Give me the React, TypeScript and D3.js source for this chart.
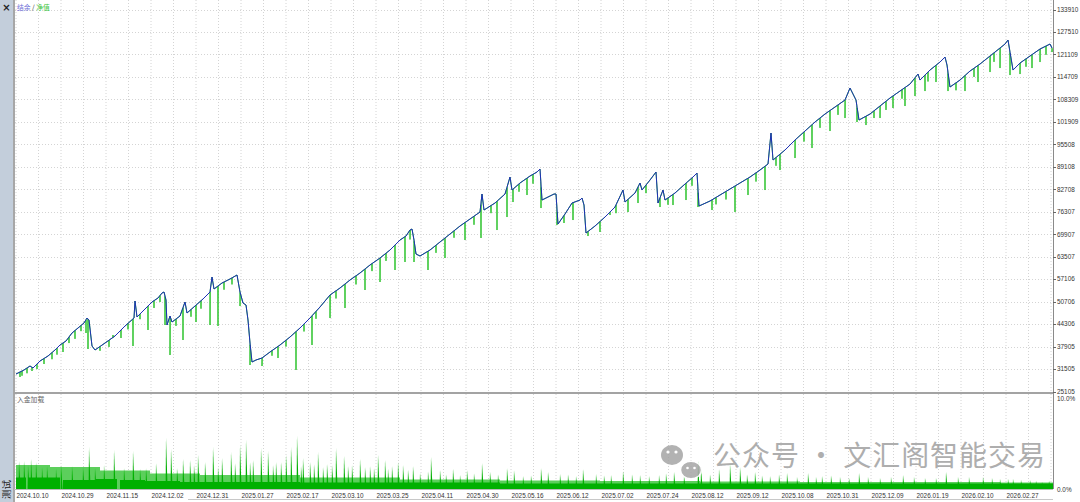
import React from 'react';
import * as d3 from 'd3';

const yTickLabels = ['25105','31505','37905','44306','50706','57106','63507','69907','76307','82708','89108','95508','101909','108309','114709','121109','127510','133910'];
const dateLabels = ['2024.10.10','2024.10.29','2024.11.15','2024.12.02','2024.12.31','2025.01.27','2025.02.17','2025.03.10','2025.03.25','2025.04.11','2025.04.30','2025.05.16','2025.06.12','2025.07.02','2025.07.24','2025.08.12','2025.09.12','2025.10.08','2025.10.31','2025.12.09','2026.01.19','2026.02.10','2026.02.27'];
const tradesPerLabel = 45;
const totalTrades = 1037;

// balance: [trade number, balance]
const balance: [number, number][] = [[0,30089],[8,31228],[14,32367],[17,31798],[24,33791],[32,35215],[39,36924],[44,38348],[50,39487],[56,41766],[62,43190],[68,44614],[71,46038],[73,45468],[76,38063],[79,36924],[89,38918],[99,40911],[109,43759],[118,46038],[119,50879],[121,46323],[129,48601],[136,50595],[142,51734],[146,53158],[148,53443],[150,51164],[151,44044],[154,46607],[156,44899],[164,46607],[169,50595],[171,47462],[179,49455],[187,51449],[194,53443],[196,57715],[198,54297],[206,56006],[214,57145],[221,58284],[224,53443],[227,50310],[230,49740],[232,45468],[234,38918],[236,33507],[240,34076],[246,34646],[254,36355],[264,38348],[274,40627],[284,43190],[294,46038],[304,49171],[314,52588],[324,54582],[334,56860],[344,58854],[354,61132],[364,63126],[374,65404],[384,68252],[390,69391],[394,71100],[396,71385],[398,68252],[400,64265],[404,63695],[414,65404],[424,67683],[434,69961],[444,72239],[454,74233],[464,76227],[466,81353],[468,76796],[479,78790],[489,81353],[494,86195],[496,82492],[504,84486],[514,86479],[521,87619],[524,88473],[526,79644],[532,80499],[538,81353],[540,81353],[542,72809],[549,75657],[556,78790],[564,79644],[566,80214],[568,78220],[570,70246],[579,72239],[589,74803],[599,77651],[607,82492],[609,79075],[619,81638],[624,84486],[626,82492],[634,85340],[640,87619],[642,78790],[647,82492],[649,79644],[659,81638],[669,84201],[677,86195],[681,87334],[683,77935],[694,79359],[704,81068],[714,82777],[724,84486],[734,86195],[744,88188],[752,89897],[755,98726],[757,91036],[769,93884],[779,96732],[789,99295],[799,101859],[809,104137],[819,106131],[829,108124],[834,111542],[837,109834],[840,108124],[843,102428],[854,104137],[864,106415],[874,108694],[884,110687],[894,112681],[902,115529],[904,113820],[914,116668],[924,118947],[929,120371],[931,118092],[934,111827],[944,113820],[954,116383],[964,118377],[974,120655],[984,122934],[989,124073],[992,125212],[995,120086],[997,116668],[1004,118662],[1014,120655],[1024,122649],[1034,124073],[1036,122934]];

// equity dips: [trade number, lowest equity]
const equityDips: [number, number][] = [[4,29235],[6,29600],[11,30300],[16,30943],[21,31500],[28,32937],[36,34300],[41,35600],[47,36355],[53,38900],[59,40100],[65,42300],[70,41766],[72,37209],[84,36700],[93,37800],[97,41196],[105,40342],[112,42800],[117,38063],[124,45700],[132,42620],[138,48900],[144,50600],[149,44044],[154,35500],[160,43800],[167,39772],[175,46400],[180,44899],[185,48700],[194,44044],[202,43759],[208,54100],[216,55600],[224,49455],[234,32652],[246,32367],[256,35300],[262,34646],[270,37900],[280,31228],[288,42200],[296,38348],[300,45800],[314,46038],[320,51600],[329,48886],[340,55600],[349,54012],[356,59400],[364,56291],[370,62300],[379,59708],[389,61987],[394,68400],[398,61987],[412,59708],[420,64600],[429,63126],[438,68900],[449,68252],[458,72600],[465,68822],[475,75900],[481,71100],[491,74803],[497,79075],[503,82000],[511,81068],[517,84300],[525,77366],[541,72524],[548,73100],[557,73947],[572,69391],[584,70531],[594,75372],[600,75900],[612,76227],[622,78790],[630,81600],[644,77651],[652,78300],[657,78220],[670,79644],[676,83700],[682,77651],[696,76796],[700,78400],[710,79800],[719,76227],[732,81068],[740,84900],[749,82492],[760,89400],[764,88188],[779,91606],[788,96300],[796,94454],[804,100200],[814,99295],[822,103900],[829,102998],[841,101859],[850,101004],[858,103000],[864,102998],[870,105300],[877,105846],[886,108500],[889,106415],[899,109263],[909,110687],[912,113400],[920,113251],[932,110687],[940,110900],[949,110687],[958,114700],[962,113251],[974,116099],[978,119000],[984,117238],[994,115244],[1004,115529],[1010,117600],[1016,117238],[1024,118947],[1030,121000],[1036,121794]];

// deposit load (%)
const loadLight: [number, number][] = [[0,2.61],[34,2.39],[84,2.01],[134,1.68],[184,1.52],[284,1.25],[384,1.03],[484,0.92],[584,0.87],[684,0.82],[784,0.76],[884,0.76],[984,0.71],[1037,0.71]];
const loadDark: [number, number][] = [[0,1.25],[10,0],[12,1.25],[44,0],[47,0.98],[78,0.98],[80,1.09],[101,0],[104,0.98],[129,0.87],[164,0.76],[284,0.71],[484,0.6],[684,0.6],[1037,0.54]];
const loadSpikes: [number, number][] = [[3,3.04],[8,3.04],[12,2.6],[15,3.26],[20,2.93],[26,2.4],[31,2.5],[40,2.2],[45,2.61],[56,2.5],[67,2.39],[73,4.57],[79,2.28],[88,2.6],[98,4.24],[108,2.3],[117,4.13],[124,2.2],[130,2.28],[140,2.8],[150,5.54],[155,4.35],[161,2.28],[167,3.26],[174,3.15],[178,2.6],[182,3.7],[189,2.93],[197,4.57],[202,2.4],[206,3.37],[215,4.02],[219,2.8],[224,4.78],[230,5.33],[234,2.9],[237,3.15],[245,4.46],[252,4.13],[257,2.6],[260,2.93],[265,2.9],[270,3.7],[275,4.57],[281,5.87],[285,2.5],[287,3.37],[294,2.93],[298,2.7],[302,4.02],[307,2.4],[311,2.72],[316,2.6],[320,4.46],[328,3.59],[332,2.5],[336,2.61],[344,3.26],[349,2.4],[354,2.5],[358,2.3],[362,3.7],[369,3.15],[372,2.2],[376,2.5],[382,2.93],[387,2.61],[392,2.1],[397,2.5],[404,1.74],[412,1.9],[415,3.48],[424,2.07],[430,1.6],[437,2.2],[444,1.52],[451,2.07],[458,1.7],[466,2.83],[474,1.85],[482,1.6],[491,2.28],[498,2.0],[507,1.41],[515,1.5],[525,2.28],[532,1.85],[544,1.63],[552,1.6],[560,1.4],[567,2.17],[580,1.63],[588,1.5],[595,1.52],[607,1.96],[616,1.6],[624,1.52],[633,1.4],[643,1.52],[650,1.7],[658,1.85],[668,1.5],[682,3.04],[685,2.28],[694,1.6],[703,2.17],[714,2.72],[724,2.39],[731,1.6],[739,1.85],[746,1.5],[754,1.41],[763,1.6],[771,1.74],[781,1.3],[792,1.74],[800,1.3],[806,1.41],[815,1.5],[824,1.3],[833,1.2],[843,1.74],[852,1.3],[864,1.2],[875,1.3],[887,1.52],[898,1.3],[909,1.2],[920,1.2],[930,1.85],[942,1.3],[953,1.3],[967,1.3],[976,1.2],[984,1.09],[992,1.1],[997,1.09],[1005,1.0],[1014,0.98],[1020,0.9],[1026,0.76],[1033,0.9]];
const loadTicks = ['10.0%', '0.0%'];

const W = 1080, H = 502;
const LEFT = 14, RIGHT = 1053;
const MAIN_TOP = 0, MAIN_BOTTOM = 392;
const LOW_TOP = 394, LOW_BOTTOM = 489;

const AX_FONT = "'Liberation Sans', Arial, sans-serif";
const CJK_FONT = "'Noto Sans CJK SC', sans-serif";

export default function App() {
  const x = d3.scaleLinear().domain([0, totalTrades]).range([16, RIGHT]);
  const yTickValues = yTickLabels.map(Number);
  const y = d3.scaleLinear().domain([yTickValues[0], yTickValues[yTickValues.length - 1]]).range([391.5, 9.5]);
  const yl = d3.scaleLinear().domain([0, 10]).range([LOW_BOTTOM, 397]);

  const balAt = d3.scaleLinear().domain(balance.map(d => d[0])).range(balance.map(d => d[1]));

  const balLine = d3.line<[number, number]>().x(d => x(d[0])).y(d => y(d[1]))(balance) || '';

  const eqPts: [number, number][] = [...balance];
  equityDips.forEach(([t, v]) => {
    eqPts.push([t - 0.2, balAt(t - 0.2)]);
    eqPts.push([t, v]);
    eqPts.push([t + 0.2, balAt(t + 0.2)]);
  });
  eqPts.sort((a, b) => a[0] - b[0]);
  const eqLine = d3.line<[number, number]>().x(d => x(d[0])).y(d => y(d[1]))(eqPts) || '';

  const lightArea = d3.area<[number, number]>().x(d => x(d[0])).y0(yl(0)).y1(d => yl(d[1])).curve(d3.curveStepAfter)(loadLight) || '';
  const darkArea = d3.area<[number, number]>().x(d => x(d[0])).y0(yl(0)).y1(d => yl(d[1])).curve(d3.curveStepAfter)(loadDark) || '';
  const spikeLine = d3.line<[number, number]>().x(d => x(d[0])).y(d => yl(d[1]));

  const gridTrades = d3.range(0, totalTrades + 1, tradesPerLabel / 2);

  return (
    <svg width={W} height={H} style={{ position: 'absolute', left: 0, top: 0, background: '#fff' }}>
      <defs>
        <clipPath id="mainClip"><rect x={LEFT + 1} y={MAIN_TOP} width={RIGHT - LEFT - 1} height={MAIN_BOTTOM - MAIN_TOP} /></clipPath>
        <clipPath id="lowClip"><rect x={LEFT + 1} y={LOW_TOP} width={RIGHT - LEFT - 1} height={LOW_BOTTOM - LOW_TOP} /></clipPath>
      </defs>
      <rect x={0} y={0} width={W} height={H} fill="#fff" />
      {/* left strip */}
      <rect x={0} y={0} width={13} height={H} fill="#c3cedb" />
      <text x={6.5} y={11} textAnchor="middle" fontFamily="'DejaVu Sans', sans-serif" fontWeight="bold" fontSize={10} fill="#222">×</text>
      <text transform="translate(10,480) rotate(-90)" textAnchor="end" fontFamily={CJK_FONT} fontSize={9.5} fill="#222">测试</text>
      <line x1={LEFT} x2={LEFT} y1={0} y2={H} stroke="#8a8a8a" strokeWidth={1.5} />

      {/* grid main */}
      {gridTrades.map((t, i) => (
        <line key={'gv' + i} x1={x(t)} x2={x(t)} y1={MAIN_TOP} y2={MAIN_BOTTOM} stroke="#d4d4d4" strokeWidth={1} strokeDasharray="1,2" />
      ))}
      {yTickValues.map((v, i) => (
        <line key={'gh' + i} x1={LEFT + 1} x2={RIGHT} y1={Math.round(y(v)) + 0.5} y2={Math.round(y(v)) + 0.5} stroke="#d4d4d4" strokeWidth={1} strokeDasharray="1,2" />
      ))}
      {/* grid lower */}
      {gridTrades.map((t, i) => (
        <line key={'glv' + i} x1={x(t)} x2={x(t)} y1={LOW_TOP} y2={LOW_BOTTOM} stroke="#d4d4d4" strokeWidth={1} strokeDasharray="1,2" />
      ))}

      {/* legend */}
      <text x={17} y={9.5} fontFamily={CJK_FONT} fontSize={6.8}>
        <tspan fill="#6a6ad6">结余</tspan><tspan fill="#333"> / </tspan><tspan fill="#3cc43c">净值</tspan>
      </text>

      {/* equity & balance */}
      <g clipPath="url(#mainClip)">
        <path d={eqLine} fill="none" stroke="#2ec42e" strokeWidth={1} />
        <path d={balLine} fill="none" stroke="#1f2fb8" strokeWidth={1} />
      </g>

      {/* separator */}
      <rect x={LEFT} y={MAIN_BOTTOM} width={RIGHT - LEFT} height={2} fill="#a3a3a3" />

      {/* lower panel */}
      <g clipPath="url(#lowClip)">
        <path d={lightArea} fill="#5ccf5c" />
        <path d={darkArea} fill="#00b000" />
        {loadSpikes.map(([t, p], i) => (
          <path key={'sp' + i} d={spikeLine([[t - 0.4, 0], [t, p], [t + 1.6, 0]]) || ''} fill="#00b000" />
        ))}
      </g>
      <text x={17} y={402} fontFamily={CJK_FONT} fontSize={6.8} fill="#666">入金加载</text>

      {/* watermark */}
      <g opacity={0.85}>
        <ellipse cx={672} cy={455} rx={11} ry={10} fill="#a5a5a5" />
        <circle cx={668} cy={452} r={1.6} fill="#fff" />
        <circle cx={676} cy={452} r={1.6} fill="#fff" />
        <ellipse cx={691} cy={470} rx={10.5} ry={8.8} fill="#a5a5a5" stroke="#fff" strokeWidth={1.5} />
        <circle cx={687.5} cy={468} r={1.3} fill="#fff" />
        <circle cx={694.5} cy={468} r={1.3} fill="#fff" />
        <text x={713} y={466} fontFamily={CJK_FONT} fontSize={28} fill="#a0a0a0" textLength={332} lengthAdjust="spacing">公众号 · 文汇阁智能交易</text>
      </g>

      {/* right axis */}
      <line x1={RIGHT + 0.5} x2={RIGHT + 0.5} y1={0} y2={LOW_BOTTOM} stroke="#8a8a8a" strokeWidth={1} />
      {yTickValues.map((v, i) => (
        <g key={'yt' + i}>
          <line x1={RIGHT} x2={RIGHT + 3} y1={Math.round(y(v)) + 0.5} y2={Math.round(y(v)) + 0.5} stroke="#666" />
          <text x={1057} y={y(v) + 2.3} fontFamily={AX_FONT} fontSize={6.4} fill="#333">{yTickLabels[i]}</text>
        </g>
      ))}
      <text x={1057} y={yl(10) + 4} fontFamily={AX_FONT} fontSize={6.4} fill="#333">{loadTicks[0]}</text>
      <text x={1057} y={yl(0) + 3.3} fontFamily={AX_FONT} fontSize={6.4} fill="#333">{loadTicks[1]}</text>

      {/* bottom axis */}
      <line x1={LEFT} x2={RIGHT} y1={LOW_BOTTOM + 0.5} y2={LOW_BOTTOM + 0.5} stroke="#bbb" />
      {dateLabels.map((lab, i) => (
        <text key={'xl' + i} x={x(i * tradesPerLabel) + 0.5} y={497.5} fontFamily={AX_FONT} fontSize={6.4} fill="#333">{lab}</text>
      ))}
      <line x1={188} x2={RIGHT} y1={499.5} y2={499.5} stroke="#c8c8c8" />
    </svg>
  );
}
